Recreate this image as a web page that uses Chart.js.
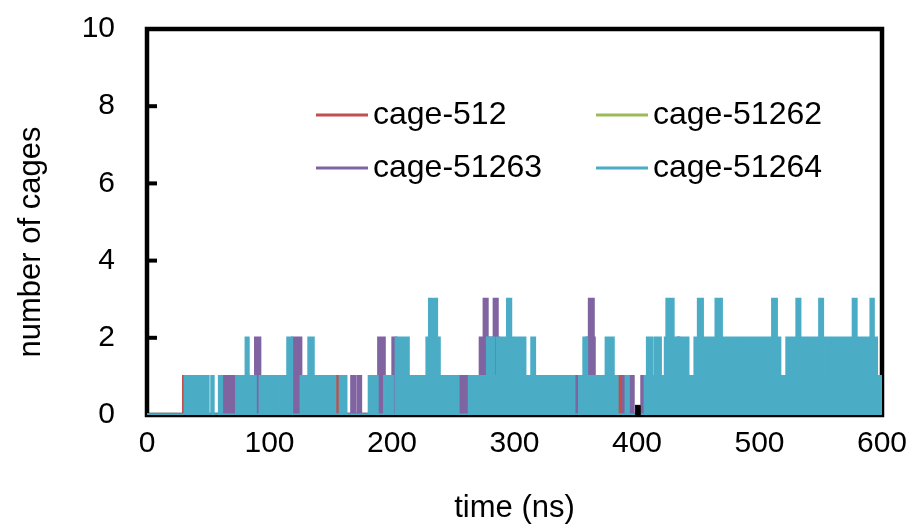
<!DOCTYPE html>
<html lang="en">
<head>
  <meta charset="UTF-8" />
  <title>number of cages</title>
  <script src="https://cdn.jsdelivr.net/npm/chart.js"></script>
  <style>
    html, body { margin: 0; padding: 0; background: #fff; }
    canvas { display: block; }
  </style>
</head>
<body>
  <canvas id="cageChart" width="913" height="527"></canvas>

  <script>
    // each pair: [time (ns), number of cages from that time on]
    const cage512 = [
      [0, 0], [29.7, 1], [31, 0], [153.4, 1], [157.6, 0], [383.9, 1], [388.3, 0], [600, 0]
    ];

    const cage51262 = [
      [0, 0], [600, 0]
    ];

    const cage51263 = [
      [0, 0], [61, 1], [73, 0], [84, 1], [84.8, 0], [88.5, 2], [92.2, 0], [96, 1], [96.8, 0],
      [112.3, 1], [113, 0], [118.9, 2], [125.7, 0], [127, 1], [127.8, 0], [137, 1], [137.8, 0],
      [167, 1], [170, 0], [172.5, 1], [174.5, 0], [189, 2], [193.8, 0], [200.6, 2], [203.3, 0],
      [254, 1], [257.7, 0], [259.6, 1], [263, 0], [271.9, 2], [275.1, 3], [277.8, 2], [283.3, 3],
      [286, 2], [287, 0], [337, 1], [337.8, 0], [343.5, 1], [344.3, 0], [348.6, 1], [353, 0],
      [359, 2], [361, 3], [364.4, 2], [365.2, 0], [389, 1], [391, 0], [393.7, 1], [397, 0],
      [403.8, 1], [406.5, 0], [433.5, 2], [434.2, 0], [600, 0]
    ];

    const cage51264 = [
      [0, 0], [31, 1], [47.3, 0], [48.7, 1], [50, 0], [52.8, 1], [54.1, 0], [59, 1], [61, 0],
      [73, 1], [80.8, 2], [82.7, 1], [84, 0], [84.8, 1], [88.5, 0], [92.2, 1], [95, 0], [95.8, 1],
      [100.2, 0], [101.5, 1], [112.2, 0], [113, 1], [114.8, 2], [118.2, 0], [125.7, 1], [127, 0],
      [127.8, 1], [132, 2], [135.8, 1], [137, 0], [137.8, 1], [153.4, 0], [157.6, 1], [162.5, 0],
      [181.3, 1], [188, 0], [193.8, 1], [200.6, 0], [203.3, 2], [213.4, 1], [228.4, 2], [230.5, 3],
      [236.5, 2], [238.7, 1], [254, 0], [263, 1], [277.8, 2], [283.3, 1], [286, 2], [294.2, 3],
      [297, 2], [308.6, 1], [314, 2], [316.5, 1], [337, 0], [337.8, 1], [343.5, 0], [344.3, 1],
      [348.6, 0], [353, 1], [356.5, 2], [359, 1], [374.7, 2], [380.7, 1], [383.9, 0], [391, 1],
      [393, 0], [406.5, 1], [408.4, 2], [412, 1], [414.5, 2], [419.2, 1], [423, 2], [424.3, 3],
      [429.6, 2], [433.5, 1], [434.2, 2], [441.7, 1], [447.2, 2], [450, 3], [453.5, 2], [464.4, 3],
      [469, 2], [482.7, 1], [483.5, 2], [489.3, 1], [490, 2], [493.6, 1], [494.3, 2], [505.3, 1],
      [506, 2], [510.6, 3], [513.9, 2], [516.7, 1], [522.2, 2], [530.4, 3], [533.1, 2], [549, 3],
      [551.6, 2], [560.3, 1], [561, 2], [576.4, 3], [579, 2], [588.8, 1], [589.8, 2], [590.9, 3],
      [593, 2], [595.6, 1], [600, 1]
    ];

    // short unlabeled trace near 400 ns
    const cageOther = [
      [398.4, 0.25], [402.7, 0]
    ];

    const xTicks = [0, 100, 200, 300, 400, 500, 600];
    const yTicks = [0, 2, 4, 6, 8, 10];

    const series = [
      { label: 'cage-512', data: cage512, color: '#C0504D', order: 3 },
      { label: 'cage-51262', data: cage51262, color: '#9BBB59', order: 2 },
      { label: 'cage-51263', data: cage51263, color: '#8064A2', order: 1 },
      { label: 'cage-51264', data: cage51264, color: '#4BACC6', order: 0 }
    ];

    const toPoints = arr => arr.map(p => ({ x: p[0], y: p[1] }));

    const datasets = series.map(s => ({
      label: s.label,
      data: toPoints(s.data),
      borderColor: s.color,
      backgroundColor: s.color,
      borderWidth: 2.8,
      stepped: true,
      fill: 'origin',
      pointRadius: 0,
      order: s.order
    }));

    datasets.push({
      label: '',
      data: toPoints(cageOther),
      borderColor: '#000',
      backgroundColor: '#000',
      borderWidth: 1,
      stepped: true,
      fill: 'origin',
      pointRadius: 0,
      order: -1
    });

    const textColor = '#000';
    const fontFamily = '"Liberation Sans", Arial, sans-serif';

    // black box around the plot plus short inward ticks on the y axis
    const framePlugin = {
      id: 'frame',
      beforeDatasetsDraw(chart) {
        const { ctx, chartArea: a, scales } = chart;
        ctx.save();
        ctx.strokeStyle = '#000';
        ctx.lineWidth = 4.5;
        ctx.strokeRect(a.left, a.top, a.right - a.left, a.bottom - a.top);
        ctx.lineWidth = 4;
        yTicks.forEach(v => {
          const y = scales.y.getPixelForValue(v);
          ctx.beginPath();
          ctx.moveTo(a.left, y);
          ctx.lineTo(a.left + 10, y);
          ctx.stroke();
        });
        ctx.restore();
      }
    };

    // two-column legend inside the plot, and the vertical axis title
    const legendPlugin = {
      id: 'innerLegend',
      afterDatasetsDraw(chart) {
        const { ctx } = chart;
        const cols = [316, 596];
        const rows = [115, 168];
        ctx.save();
        ctx.font = '32px ' + fontFamily;
        ctx.textBaseline = 'middle';
        ctx.fillStyle = textColor;
        series.forEach((s, i) => {
          const x = cols[i % 2];
          const y = rows[Math.floor(i / 2)];
          ctx.strokeStyle = s.color;
          ctx.lineWidth = 3;
          ctx.beginPath();
          ctx.moveTo(x, y);
          ctx.lineTo(x + 52, y);
          ctx.stroke();
          ctx.fillText(s.label, x + 57, y);
        });

        ctx.font = '31px ' + fontFamily;
        ctx.textAlign = 'center';
        ctx.translate(31, 242);
        ctx.rotate(-Math.PI / 2);
        ctx.fillText('number of cages', 0, 0);
        ctx.restore();
      }
    };

    new Chart(document.getElementById('cageChart'), {
      type: 'line',
      data: { datasets },
      options: {
        responsive: false,
        animation: false,
        events: [],
        layout: { padding: { left: 0, right: 31, top: 29, bottom: 0 } },
        plugins: {
          legend: { display: false },
          tooltip: { enabled: false }
        },
        scales: {
          x: {
            type: 'linear',
            min: 0,
            max: 600,
            afterBuildTicks: scale => { scale.ticks = xTicks.map(v => ({ value: v })); },
            afterFit: scale => {
              scale.height = 112;
              scale.paddingLeft = 0;
              scale.paddingRight = 0;
            },
            grid: { display: false, drawTicks: false },
            border: { display: false },
            ticks: {
              color: textColor,
              padding: 11,
              font: { family: fontFamily, size: 30 }
            },
            title: {
              display: true,
              text: 'time (ns)',
              color: textColor,
              padding: { top: 0, bottom: 0 },
              font: { family: fontFamily, size: 31 }
            }
          },
          y: {
            min: 0,
            max: 10,
            afterBuildTicks: scale => { scale.ticks = yTicks.map(v => ({ value: v })); },
            afterFit: scale => {
              scale.width = 147;
              scale.paddingTop = 0;
              scale.paddingBottom = 0;
            },
            grid: { display: false, drawTicks: false },
            border: { display: false },
            ticks: {
              color: textColor,
              padding: 32,
              font: { family: fontFamily, size: 30 }
            }
          }
        }
      },
      plugins: [framePlugin, legendPlugin]
    });
  </script>
</body>
</html>
